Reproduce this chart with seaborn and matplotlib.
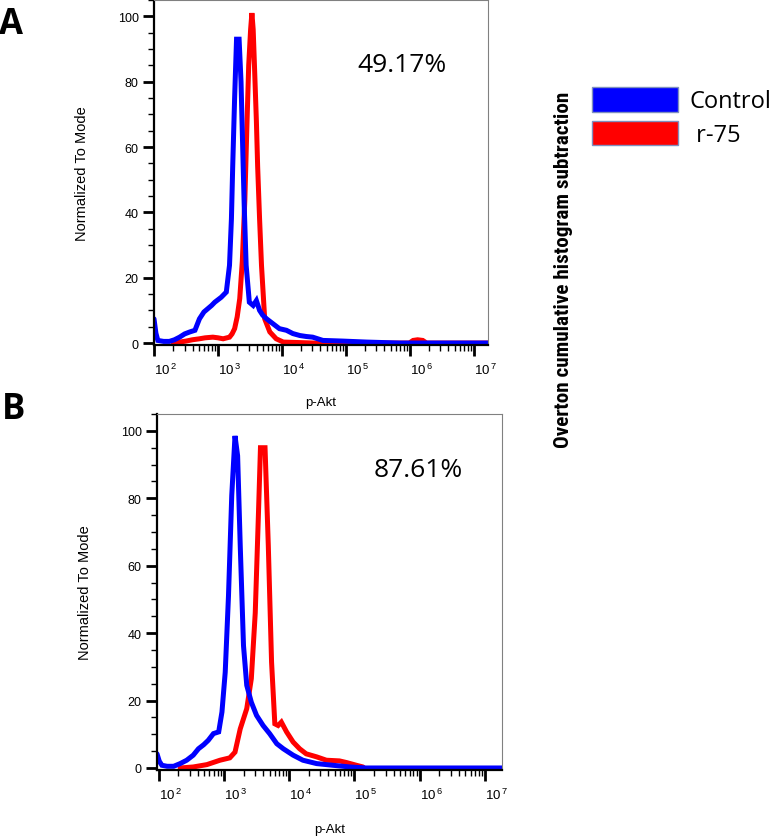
import numpy as np
import pandas as pd
import seaborn as sns
import matplotlib.pyplot as plt
from matplotlib.ticker import FixedLocator, MultipleLocator, LogLocator, NullFormatter
from matplotlib.patches import Patch

# --- values (x in decades of p-Akt) ---
a_ctrl_log = [2.00, 2.03, 2.06, 2.15, 2.24, 2.32, 2.40, 2.48, 2.56, 2.64, 2.71, 2.78,
              2.84, 2.90, 2.95, 3.05, 3.13, 3.18, 3.21, 3.23, 3.26, 3.29, 3.33, 3.36,
              3.38, 3.41, 3.44, 3.49, 3.55, 3.60, 3.65, 3.70, 3.76, 3.86, 3.96, 4.07,
              4.17, 4.28, 4.38, 4.48, 4.64, 4.80, 4.95, 5.32, 5.84, 6.50, 7.22]
a_ctrl_val = [7.4, 3.0, 0.8, 0.5, 0.5, 1.0, 1.8, 2.8, 3.4, 3.9, 7.4, 9.5,
              10.5, 11.5, 12.5, 14, 15.6, 23.8, 38, 54, 75, 93, 93, 80,
              64.5, 42, 23.8, 12.5, 11.5, 13, 10, 8.5, 7.4, 5.9, 4.4, 3.9,
              2.9, 2.3, 2.0, 1.8, 0.8, 0.7, 0.6, 0.3, 0, 0, 0]

a_r75_log = [2.30, 2.40, 2.50, 2.60, 2.71, 2.80, 2.92, 3.00, 3.08, 3.18, 3.22, 3.26,
             3.30, 3.34, 3.38, 3.42, 3.45, 3.48, 3.51, 3.53, 3.55, 3.57, 3.60, 3.62,
             3.65, 3.68, 3.73, 3.81, 3.91, 4.02, 4.50, 5.00, 5.50, 5.99, 6.05, 6.12,
             6.20, 6.26, 6.60, 7.22]
a_r75_val = [0, 0.3, 0.6, 1.0, 1.3, 1.6, 1.8, 1.6, 1.3, 1.8, 2.8, 4.4,
             8, 13.6, 25, 44, 65, 85, 96, 101, 96, 85, 68, 54,
             38, 23.8, 7.4, 3.4, 1.3, 0.3, 0, 0, 0, 0, 0.8, 1.0,
             0.8, 0, 0, 0]

b_ctrl_log = [1.975, 2.01, 2.05, 2.13, 2.23, 2.33, 2.43, 2.53, 2.61, 2.69, 2.76, 2.84,
              2.92, 2.97, 3.02, 3.07, 3.12, 3.17, 3.21, 3.25, 3.30, 3.35, 3.42, 3.50,
              3.60, 3.70, 3.81, 3.91, 4.06, 4.21, 4.42, 4.67, 4.93, 5.18, 6.00, 7.26]
b_ctrl_val = [4.2, 2.0, 0.8, 0.5, 0.5, 1.3, 2.3, 3.8, 5.7, 6.9, 8.2, 10.2,
              10.7, 16.6, 28.4, 51, 80.8, 98.5, 92.6, 66, 36.3, 24.5, 19.5, 15.6,
              12.6, 10.2, 7.2, 5.7, 3.8, 2.3, 1.3, 0.8, 0.3, 0, 0, 0]

b_r75_log = [2.33, 2.53, 2.74, 2.94, 3.09, 3.17, 3.25, 3.35, 3.42, 3.48, 3.53, 3.56,
             3.60, 3.63, 3.68, 3.73, 3.78, 3.83, 3.88, 3.96, 4.06, 4.16, 4.26, 4.42,
             4.57, 4.77, 4.88, 5.03, 5.13]
b_r75_val = [0, 0.3, 1.0, 2.3, 3.0, 4.7, 11.6, 17.6, 26.5, 46, 76, 95,
             95, 95, 66, 31.4, 13.1, 12.6, 13.6, 10.7, 7.7, 5.7, 4.2, 3.3,
             2.3, 2.1, 1.6, 0.8, 0.3]

samples = ['Control', 'r-75']
overton = ['49.17%', '87.61%']
y_ticks = [0, 20, 40, 60, 80, 100]
x_decades = [2, 3, 4, 5, 6, 7]

palette = {'Control': '#0000ff', 'r-75': '#ff0000'}


def make_df(ctrl_log, ctrl_val, r75_log, r75_val):
    parts = []
    for name, lg, vals in [('Control', ctrl_log, ctrl_val), ('r-75', r75_log, r75_val)]:
        parts.append(pd.DataFrame({'p-Akt': 10 ** np.array(lg),
                                   'Normalized To Mode': vals,
                                   'Sample': name}))
    return pd.concat(parts, ignore_index=True)


df_a = make_df(a_ctrl_log, a_ctrl_val, a_r75_log, a_r75_val)
df_b = make_df(b_ctrl_log, b_ctrl_val, b_r75_log, b_r75_val)

sns.set_style("ticks")
plt.rcParams['font.family'] = ['Liberation Sans', 'DejaVu Sans']
plt.rcParams['mathtext.fontset'] = 'custom'
plt.rcParams['mathtext.rm'] = 'Liberation Sans'
for key in ['text.color', 'axes.labelcolor', 'xtick.color', 'ytick.color']:
    plt.rcParams[key] = 'black'

fig = plt.figure(figsize=(7.78, 8.37), dpi=100)
ax_a = fig.add_axes([154 / 778, 1 - 346 / 837, 334 / 778, 345 / 837])
ax_b = fig.add_axes([157 / 778, 1 - 771 / 837, 345 / 778, 356 / 837])


def draw_panel(ax, df, xlim_log, pct, pct_xy, xlabelpad):
    sns.lineplot(data=df, x='p-Akt', y='Normalized To Mode', hue='Sample',
                 hue_order=['r-75', 'Control'], palette=palette, estimator=None,
                 sort=False, linewidth=3.6, legend=False, ax=ax)
    for ln in ax.lines:
        ln.set_solid_joinstyle('miter')
    ax.set_xscale('log')
    ax.set_xlim(10 ** xlim_log[0], 10 ** xlim_log[1])
    ax.set_ylim(-0.6, 105)

    ax.xaxis.set_major_locator(FixedLocator([10.0 ** d for d in x_decades]))
    ax.set_xticklabels([r'$\mathregular{10^{\,%d}}$' % d for d in x_decades], ha='left')
    ax.xaxis.set_minor_locator(LogLocator(base=10, subs=np.arange(2, 10), numticks=20))
    ax.xaxis.set_minor_formatter(NullFormatter())
    ax.set_yticks(y_ticks)
    ax.yaxis.set_minor_locator(MultipleLocator(5))

    ax.tick_params(which='major', direction='out', length=8, width=2, color='black',
                   labelsize=9, pad=3)
    ax.tick_params(which='minor', direction='out', length=4.5, width=1, color='black')
    ax.tick_params(axis='x', which='major', pad=4, labelsize=9.5)

    for side in ['left', 'bottom']:
        ax.spines[side].set_color('black')
        ax.spines[side].set_linewidth(1.6)
    for side in ['top', 'right']:
        ax.spines[side].set_color('#808080')
        ax.spines[side].set_linewidth(0.8)

    ax.set_xlabel('p-Akt', fontsize=9.5, labelpad=xlabelpad)
    ax.set_ylabel('Normalized To Mode', fontsize=10.5, labelpad=21)
    ax.text(pct_xy[0], pct_xy[1], pct, transform=ax.transAxes, ha='center',
            va='center', fontsize=19, family=['Open Sans', 'DejaVu Sans'])


draw_panel(ax_a, df_a, (2.0, 7.22), overton[0], (0.743, 0.814), 14)
draw_panel(ax_b, df_b, (1.975, 7.26), overton[1], (0.757, 0.843), 15)

fig.text(0.014, 0.9707, 'A', fontsize=25, fontweight='bold', ha='center', va='center',
         family=['Open Sans', 'DejaVu Sans'])
fig.text(0.018, 0.5096, 'B', fontsize=25, fontweight='bold', ha='center', va='center',
         family=['Open Sans', 'DejaVu Sans'])

fig.text(0.7237, 0.677, 'Overton cumulative histogram subtraction', rotation=90,
         fontsize=15.2, fontweight='bold', ha='center', va='center',
         family=['Roboto Condensed', 'Roboto', 'DejaVu Sans'])

handles = [Patch(facecolor=palette[s], edgecolor='#7f8fbf', linewidth=1) for s in samples]
fig.legend(handles, ['Control', ' r-75'], loc='upper left',
           bbox_to_anchor=(592 / 778, 1 - 88 / 837), frameon=False, borderpad=0,
           borderaxespad=0, handlelength=3.64, handleheight=1.25, handletextpad=0.51,
           labelspacing=0.3, prop={'family': ['Open Sans', 'DejaVu Sans'], 'size': 17})

fig.savefig('out.png', dpi=100)
